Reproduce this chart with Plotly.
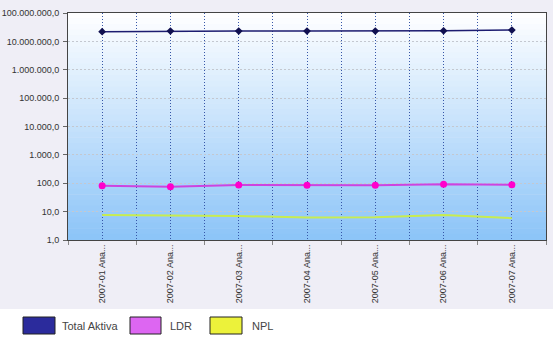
import plotly.graph_objects as go

categories = ["2007-01 Ana...", "2007-02 Ana...", "2007-03 Ana...", "2007-04 Ana...",
              "2007-05 Ana...", "2007-06 Ana...", "2007-07 Ana..."]
total_aktiva = [22000000, 23000000, 23000000, 23000000, 23000000, 23500000, 25000000]
ldr = [81, 76, 87, 85, 85, 93, 88]
npl = [7.6, 7.2, 7.0, 6.2, 6.3, 7.6, 5.9]
ytick_vals = [1, 10, 100, 1000, 10000, 100000, 1000000, 10000000, 100000000]
ytick_text = ["1,0", "10,0", "100,0", "1.000,0", "10.000,0", "100.000,0",
              "1.000.000,0", "10.000.000,0", "100.000.000,0"]
legend_names = ["Total Aktiva", "LDR", "NPL"]
legend_colors = ["#2b2b9c", "#dd66f2", "#ecf23a"]

xs = list(range(len(categories)))

fig = go.Figure()
fig.add_trace(go.Scatter(x=xs, y=npl, mode="lines", name="NPL",
                         line=dict(color="#c8ec50", width=2)))
fig.add_trace(go.Scatter(x=xs, y=ldr, mode="lines+markers", name="LDR",
                         line=dict(color="#cc44e0", width=2),
                         marker=dict(color="#ff00cc", size=7, symbol="circle")))
fig.add_trace(go.Scatter(x=xs, y=total_aktiva, mode="lines+markers", name="Total Aktiva",
                         line=dict(color="#1c1c70", width=1.5),
                         marker=dict(color="#101050", size=6, symbol="diamond")))

L, R, T, B = 68, 11, 13, 111
W, H = 557 - L - R, 351 - T - B

def px(x):
    return (x - L) / W

def py(y):
    return (351 - B - y) / H

shapes = []
shapes.append(dict(type="rect", xref="paper", yref="paper", x0=px(0), x1=px(553),
                   y0=py(309), y1=py(0), fillcolor="#efeef6", line_width=0, layer="below"))
n = 40
top = (255, 255, 255)
bot = (140, 196, 248)
for i in range(n):
    t = (i + 0.5) / n
    c = tuple(int(round(top[k] + (bot[k] - top[k]) * t)) for k in range(3))
    shapes.append(dict(type="rect", xref="x domain", yref="y domain", x0=0, x1=1,
                       y0=1 - (i + 1) / n, y1=1 - i / n + 0.002,
                       fillcolor="rgb(%d,%d,%d)" % c, line_width=0, layer="below"))

annotations = []
boxes = [(23, 55, 60), (130, 161, 168), (210, 242, 250)]
for (x0, x1, tx), name, col in zip(boxes, legend_names, legend_colors):
    shapes.append(dict(type="rect", xref="paper", yref="paper", x0=px(x0), x1=px(x1),
                       y0=py(334), y1=py(317), fillcolor=col,
                       line=dict(color="#222222", width=1)))
    annotations.append(dict(xref="paper", yref="paper", x=px(tx), y=py(325.5),
                            text=name, showarrow=False, xanchor="left", yanchor="middle",
                            font=dict(family="Liberation Sans", size=11, color="#444444")))

fig.update_layout(
    width=557, height=351,
    margin=dict(l=L, r=R, t=T, b=B, autoexpand=False),
    paper_bgcolor="white",
    plot_bgcolor="rgba(0,0,0,0)",
    showlegend=False,
    shapes=shapes,
    annotations=annotations,
    font=dict(family="Liberation Sans", size=9, color="#333333"),
)
fig.update_xaxes(
    automargin=False,
    range=[-0.5, len(categories) - 0.5],
    tickmode="array", tickvals=xs, ticktext=categories, tickangle=-90,
    tickfont=dict(family="Liberation Sans", size=9, color="#333333"),
    showgrid=True, gridcolor="#3656a8", griddash="1px,2px", gridwidth=1,
    ticks="", showline=True, linecolor="#444444", linewidth=1, mirror=True,
    minor=dict(tickmode="array", tickvals=[x + 0.5 for x in xs[:-1]] + [-0.5, len(xs) - 0.5],
               showgrid=True, gridcolor="#3656a8", griddash="1px,2px", gridwidth=1,
               ticks="outside", ticklen=4, tickcolor="#888888"),
    zeroline=False,
)
fig.update_yaxes(
    automargin=False,
    type="log", range=[0, 8],
    tickmode="array", tickvals=ytick_vals, ticktext=ytick_text,
    tickfont=dict(family="Liberation Sans", size=9, color="#333333"),
    showgrid=True, gridcolor="#c4c8d0", griddash="2px,2px", gridwidth=1,
    ticks="outside", ticklen=4, tickcolor="#666666", ticklabelstandoff=2,
    showline=True, linecolor="#444444", linewidth=1, mirror=True,
    zeroline=False,
)

fig.write_html("out.html")
